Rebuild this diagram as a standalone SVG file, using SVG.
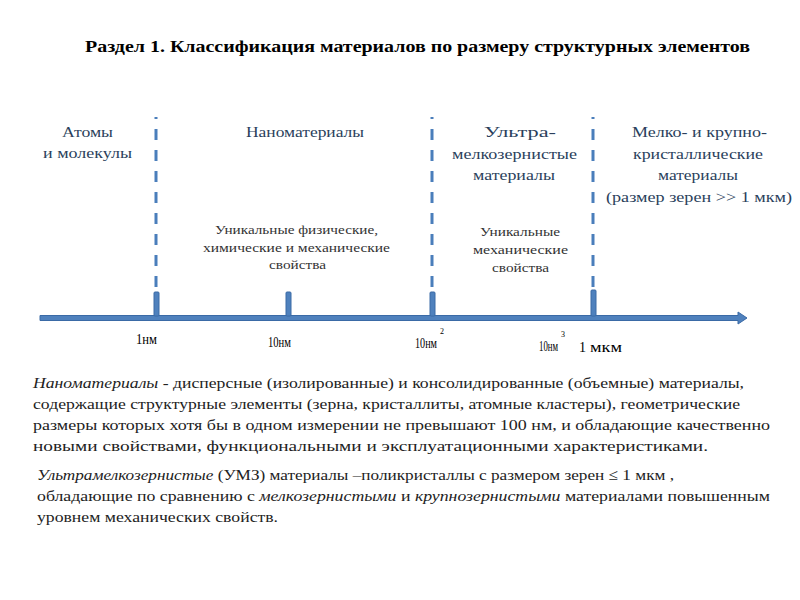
<svg xmlns="http://www.w3.org/2000/svg" width="800" height="600" viewBox="0 0 800 600">
<defs>
<style>
text{font-family:"Liberation Serif","Times New Roman",serif}
.title{font-size:17px;font-weight:bold;fill:#000}
.hd{font-size:15px;fill:#2b3f5c}
.sm{font-size:13px;fill:#333}
.ax{font-size:14px;fill:#000}
.sup{font-size:8px;fill:#000}
.p{font-size:15.5px;fill:#222}
.dash{stroke:#4a7ebb;stroke-width:3;stroke-dasharray:11 10;fill:none}
.tick{fill:#4f81bd;stroke:#3a6aa6;stroke-width:1}
</style>
</defs>
<rect width="800" height="600" fill="#fff"/>
<text class="title" x="85" y="52" textLength="665" lengthAdjust="spacingAndGlyphs">Раздел 1. Классификация материалов по размеру структурных элементов</text>

<g id="connectors">
<line class="dash" x1="156" y1="117" x2="156" y2="292" stroke-dashoffset="9"/>
<line class="dash" x1="432" y1="117" x2="432" y2="300" stroke-dashoffset="9"/>
<line class="dash" x1="593" y1="117" x2="593" y2="292" stroke-dashoffset="9"/>
</g>

<g id="axis">
<path d="M40 315.5 H738 V312 L747 318 L738 324 V320.5 H40 Z" fill="#4f81bd" stroke="#3a6aa6" stroke-width="1"/>
<rect class="tick" x="154" y="292" width="5" height="24" rx="1"/>
<rect class="tick" x="286" y="292" width="5" height="24" rx="1"/>
<rect class="tick" x="430" y="292" width="5" height="24" rx="1"/>
<rect class="tick" x="591" y="290" width="5" height="26" rx="1"/>
</g>

<g id="axis-labels">
<text class="ax" x="136" y="344" textLength="21" lengthAdjust="spacingAndGlyphs">1нм</text>
<text class="ax" x="268" y="347" textLength="23" lengthAdjust="spacingAndGlyphs">10нм</text>
<text class="ax" x="415" y="348" textLength="22" lengthAdjust="spacingAndGlyphs">10нм</text>
<text class="sup" x="440" y="334">2</text>
<text class="ax" x="539" y="351" textLength="19" lengthAdjust="spacingAndGlyphs">10нм</text>
<text class="sup" x="561" y="337">3</text>
<text class="ax" x="579" y="352">1</text>
<text class="ax" x="590" y="352" textLength="32" lengthAdjust="spacingAndGlyphs">мкм</text>
</g>

<g id="atoms">
<text class="hd" x="62" y="137" textLength="51" lengthAdjust="spacingAndGlyphs">Атомы</text>
<text class="hd" x="43" y="158" textLength="89" lengthAdjust="spacingAndGlyphs">и молекулы</text>
</g>
<g id="nano">
<text class="hd" x="246" y="137" textLength="118" lengthAdjust="spacingAndGlyphs">Наноматериалы</text>
<text class="sm" x="215" y="234" textLength="163" lengthAdjust="spacingAndGlyphs">Уникальные физические,</text>
<text class="sm" x="203" y="252" textLength="187" lengthAdjust="spacingAndGlyphs">химические и механические</text>
<text class="sm" x="269" y="269" textLength="57" lengthAdjust="spacingAndGlyphs">свойства</text>
</g>
<g id="ultra">
<text class="hd" x="484" y="137" textLength="72" lengthAdjust="spacingAndGlyphs">Ультра-</text>
<text class="hd" x="452" y="159" textLength="125" lengthAdjust="spacingAndGlyphs">мелкозернистые</text>
<text class="hd" x="473" y="180" textLength="82" lengthAdjust="spacingAndGlyphs">материалы</text>
<text class="sm" x="480" y="236" textLength="80" lengthAdjust="spacingAndGlyphs">Уникальные</text>
<text class="sm" x="473" y="254" textLength="95" lengthAdjust="spacingAndGlyphs">механические</text>
<text class="sm" x="492" y="272" textLength="57" lengthAdjust="spacingAndGlyphs">свойства</text>
</g>
<g id="coarse">
<text class="hd" x="632" y="137" textLength="135" lengthAdjust="spacingAndGlyphs">Мелко- и крупно-</text>
<text class="hd" x="633" y="159" textLength="130" lengthAdjust="spacingAndGlyphs">кристаллические</text>
<text class="hd" x="658" y="180" textLength="80" lengthAdjust="spacingAndGlyphs">материалы</text>
<text class="hd" x="606" y="202" textLength="186" lengthAdjust="spacingAndGlyphs">(размер зерен &gt;&gt; 1 мкм)</text>
</g>

<g id="definition-nano">
<text class="p" x="33" y="388" textLength="711" lengthAdjust="spacingAndGlyphs"><tspan font-style="italic">Наноматериалы</tspan> - дисперсные (изолированные) и консолидированные (объемные) материалы,</text>
<text class="p" x="33" y="409" textLength="707" lengthAdjust="spacingAndGlyphs">содержащие структурные элементы (зерна, кристаллиты, атомные кластеры), геометрические</text>
<text class="p" x="33" y="430" textLength="737" lengthAdjust="spacingAndGlyphs">размеры которых хотя бы в одном измерении не превышают 100 нм, и обладающие качественно</text>
<text class="p" x="33" y="451" textLength="675" lengthAdjust="spacingAndGlyphs">новыми свойствами, функциональными и эксплуатационными характеристиками.</text>
</g>
<g id="definition-ufg">
<text class="p" x="37" y="480" textLength="637" lengthAdjust="spacingAndGlyphs"><tspan font-style="italic">Ультрамелкозернистые</tspan>  (УМЗ) материалы –поликристаллы с размером зерен  ≤ 1 мкм ,</text>
<text class="p" x="37" y="501" textLength="733" lengthAdjust="spacingAndGlyphs">обладающие по сравнению с <tspan font-style="italic">мелкозернистыми</tspan> и <tspan font-style="italic">крупнозернистыми</tspan> материалами повышенным</text>
<text class="p" x="37" y="522" textLength="241" lengthAdjust="spacingAndGlyphs">уровнем механических свойств.</text>
</g>
</svg>
